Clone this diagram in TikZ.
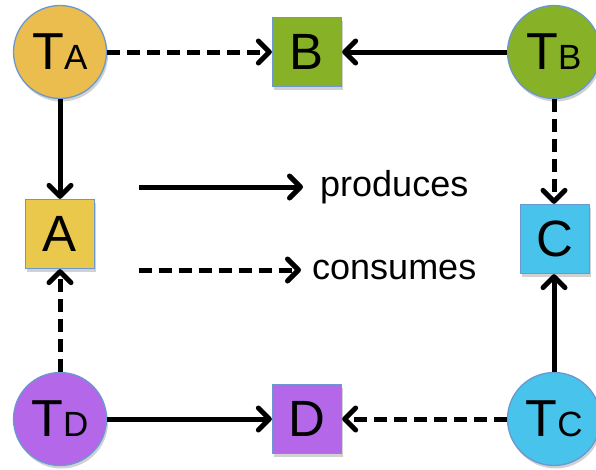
\documentclass[tikz,border=0pt]{standalone}
\usepackage{fontspec}
\setmainfont{Liberation Sans}
\usetikzlibrary{arrows.meta,shadows}
\definecolor{bordc}{HTML}{6A98CF}
\definecolor{cTA}{HTML}{EBBC4E}
\definecolor{cA}{HTML}{E9C84B}
\definecolor{cgreen}{HTML}{87B126}
\definecolor{cblue}{HTML}{47C3EC}
\definecolor{cpurple}{HTML}{B467E9}
\newcommand{\tlab}[1]{{\fontsize{52}{52}\selectfont T}{\fontsize{35}{35}\selectfont #1}}
\tikzset{
  shad/.style={drop shadow={shadow xshift=1.5pt,shadow yshift=-3pt,opacity=0.18,fill=black}},
  tnode/.style={circle,draw=bordc,line width=1.3pt,minimum size=93pt,inner sep=0pt,shad},
  dnode/.style={rectangle,draw=bordc,line width=1.3pt,minimum size=69pt,inner sep=0pt,shad,font=\fontsize{51}{51}\selectfont},
  tip/.style={-{Straight Barb[length=11pt,width=22pt,round]}},
  prod/.style={line width=5pt,tip},
  cons/.style={line width=5pt,tip,dash pattern=on 13pt off 7pt},
  lbl/.style={font=\fontsize{36}{36}\selectfont,anchor=base west,inner sep=0pt}
}
\begin{document}
\begin{tikzpicture}[x=1pt,y=-1pt]
\useasboundingbox (0,0) rectangle (596,469);
\node[tnode,fill=cTA] (TA) at (60,52) {\tlab{A}};
\node[dnode,fill=cgreen] (B) at (307,52) {B};
\node[tnode,fill=cgreen] (TB) at (554,52) {\tlab{B}};
\node[dnode,fill=cA] (A) at (60,234) {A};
\node[dnode,fill=cblue] (C) at (555,239) {C};
\node[tnode,fill=cpurple] (TD) at (60,419) {\tlab{D}};
\node[dnode,fill=cpurple] (D) at (307,419) {D};
\node[tnode,fill=cblue] (TC) at (554,419) {\tlab{C}};
\draw[cons] (TA) -- (B);
\draw[prod] (TB) -- (B);
\draw[prod] (TA) -- (A);
\draw[cons] (TB.south) -- (TB.south |- C.north);
\draw[cons] (TD) -- (A);
\draw[prod] (TC.north) -- (TC.north |- C.south);
\draw[prod] (TD) -- (D);
\draw[cons] (TC) -- (D);
\coordinate (p1) at (139,187);
\coordinate (p2) at (303,187);
\coordinate (c1) at (139,270);
\coordinate (c2) at (301,270);
\draw[prod] (p1) -- (p2);
\draw[cons] (c1) -- (c2);
\node[lbl] (prodl) at (320,196) {produces};
\node[lbl] (consl) at (312,279) {consumes};
\end{tikzpicture}
\end{document}
